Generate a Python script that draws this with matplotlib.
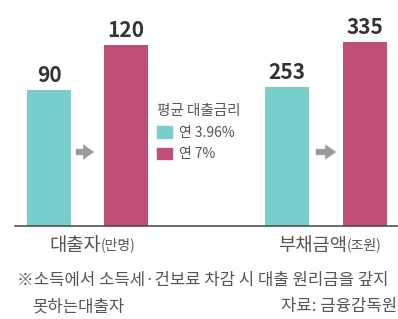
import matplotlib
matplotlib.use("Agg")
import matplotlib.pyplot as plt
from matplotlib.patches import Patch, FancyArrowPatch
from matplotlib.lines import Line2D

plt.rcParams['font.family'] = ['Noto Sans CJK KR', 'DejaVu Sans']

# data
groups = ["대출자", "부채금액"]
units = ["(만명)", "(조원)"]
rate_labels = ["연 3.96%", "연 7%"]
borrowers = [90, 120]      # 만명
debt = [253, 335]          # 조원
legend_title = "평균 대출금리"
note_lines = ["※소득에서 소득세·건보료 차감 시 대출 원리금을 갚지", "못하는대출자"]
source = "자료: 금융감독원"

teal = "#79CDCB"
magenta = "#BF4F79"
text_dark = "#333333"
text_gray = "#555555"

W, H = 398, 319
fig = plt.figure(figsize=(W / 100, H / 100), dpi=100)
fig.patch.set_facecolor("white")

base_y = 226  # baseline in pixels from top
bottom = (H - base_y) / H
height = base_y / H

# each group has its own scale, as in the original graphic
ax1 = fig.add_axes([0, bottom, 0.5, height])
ax2 = fig.add_axes([0.5, bottom, 0.5, height])
ax1.set_xlim(0, 199)
ax2.set_xlim(199, 398)
ax1.set_ylim(0, 149.6)
ax2.set_ylim(0, 411)

setups = [(ax1, borrowers, [49, 125.5]), (ax2, debt, [287, 364.5])]
for ax, vals, xs in setups:
    ax.bar(xs, vals, width=44, color=[teal, magenta])
    for x, v in zip(xs, vals):
        ax.annotate(str(v), (x, v), xytext=(0, 3), textcoords="offset points",
                    ha="center", va="bottom", fontsize=15, fontweight="bold",
                    color=text_dark)
    ax.axis("off")

# baseline
fig.add_artist(Line2D([15 / W, 1], [bottom, bottom], color="#444444", lw=1.1))

# arrows between bars
for x0, x1 in [(73, 97), (313, 339)]:
    fig.add_artist(FancyArrowPatch(
        (x0 / W, (H - 152) / H), (x1 / W, (H - 152) / H),
        transform=fig.transFigure,
        arrowstyle="simple,head_width=1.1,head_length=0.8,tail_width=0.45",
        mutation_scale=10, color="#9a9a9a", lw=0))

# group labels
for (gx, main, unit) in [(101, groups[0], units[0]), (347, groups[1], units[1])]:
    fig.text(gx / W, 1 - 245 / H, main, ha="right", va="center",
             fontsize=13.5, color=text_gray)
    fig.text(gx / W, 1 - 245 / H, unit, ha="left", va="center",
             fontsize=10, color=text_gray)

# legend
handles = [Patch(color=teal, label=rate_labels[0]),
           Patch(color=magenta, label=rate_labels[1])]
leg = fig.legend(handles=handles, title=legend_title, loc="upper left",
                 bbox_to_anchor=(157 / W, 1 - 104 / H), frameon=False,
                 fontsize=10, title_fontsize=10.5, handlelength=1.1,
                 handleheight=0.9, handletextpad=0.45, borderpad=0,
                 borderaxespad=0, labelspacing=0.55, alignment="left")
for t in leg.get_texts():
    t.set_color(text_gray)
leg.get_title().set_color(text_gray)

# footnote
fig.text(17 / W, 1 - 280 / H, note_lines[0], ha="left", va="center",
         fontsize=12, color=text_gray)
fig.text(32 / W, 1 - 307 / H, note_lines[1], ha="left", va="center",
         fontsize=12, color=text_gray)
fig.text(397 / W, 1 - 307 / H, source, ha="right", va="center",
         fontsize=12, color=text_gray)

fig.savefig("out.png", dpi=100, facecolor="white")
